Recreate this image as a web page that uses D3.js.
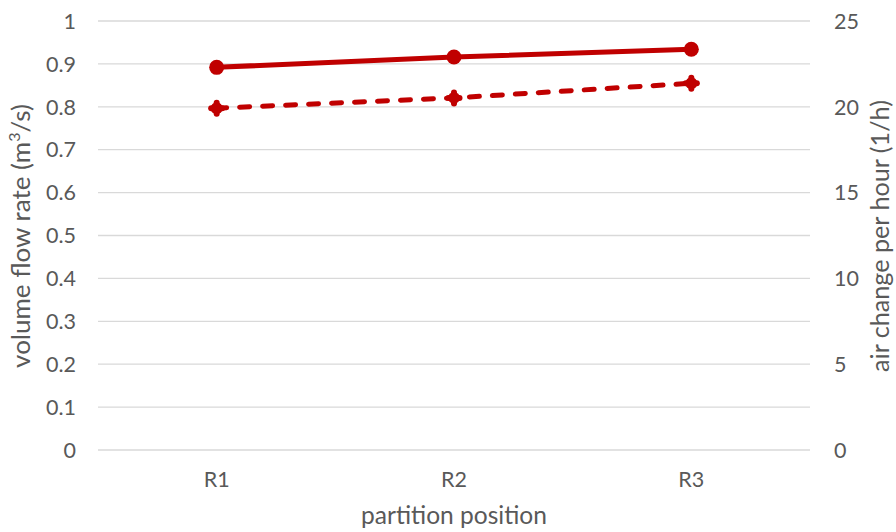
<!DOCTYPE html>
<html><head><meta charset="utf-8">
<script src="https://cdn.jsdelivr.net/npm/d3@7"></script>
<style>body{margin:0;background:#fff}svg text{font-family:Lato,"Open Sans",sans-serif;fill:#595959}</style>
</head><body>
<svg id="c" width="896" height="532"></svg>
<script>
const categories = ["R1","R2","R3"];
const flowRate = [0.892, 0.916, 0.934];      // left axis, solid line
const airChange = [19.92, 20.52, 21.37];     // right axis, dashed line
const leftTicks = [0,0.1,0.2,0.3,0.4,0.5,0.6,0.7,0.8,0.9,1];
const rightTicks = [0,5,10,15,20,25];

const svg = d3.select("#c");
const m = {l:98, r:810, t:21, b:450};
const x = d3.scaleBand().domain(categories).range([m.l, m.r]);
const yL = d3.scaleLinear().domain([0,1]).range([m.b, m.t]);
const yR = d3.scaleLinear().domain([0,25]).range([m.b, m.t]);
const TF = 21.5;

// gridlines
svg.append("g").selectAll("line").data(leftTicks).join("line")
  .attr("x1", m.l).attr("x2", m.r)
  .attr("y1", d=>yL(d)).attr("y2", d=>yL(d))
  .attr("stroke", "#d9d9d9").attr("stroke-width", 1.3);

// left ticks
svg.append("g").selectAll("text").data(leftTicks).join("text")
  .attr("x", 76).attr("y", d=>yL(d)).attr("dy","0.36em")
  .attr("text-anchor","end").attr("font-size", TF)
  .text(d=>d===0||d===1?String(d):d.toFixed(1));

// right ticks
svg.append("g").selectAll("text").data(rightTicks).join("text")
  .attr("x", 834).attr("y", d=>yR(d)).attr("dy","0.36em")
  .attr("text-anchor","start").attr("font-size", TF)
  .text(d=>d);

// x ticks
svg.append("g").selectAll("text").data(categories).join("text")
  .attr("x", d=>x(d)+x.bandwidth()/2).attr("y", 487)
  .attr("text-anchor","middle").attr("font-size", TF)
  .text(d=>d);

function fit(sel, target, base){
  const len = sel.node().getComputedTextLength();
  const k = target/len;
  sel.attr("font-size", base*k);
  sel.selectAll("tspan.sup").attr("font-size", base*k*0.62).attr("dy", -base*k*0.38);
  sel.selectAll("tspan.after").attr("dy", base*k*0.38);
}

// axis titles
const xt = svg.append("text").attr("x", (m.l+m.r)/2).attr("y", 524)
  .attr("text-anchor","middle").attr("font-size", 24).text("partition position");
fit(xt, 186, 24);
const lt = svg.append("text").attr("transform","translate(30,236) rotate(-90)")
  .attr("text-anchor","middle").attr("font-size", 24);
lt.append("tspan").text("volume flow rate (m");
lt.append("tspan").attr("class","sup").attr("font-size", 15).attr("dy", -9).text("3");
lt.append("tspan").attr("class","after").attr("dy", 9).text("/s)");
fit(lt, 264, 24);
const rt = svg.append("text").attr("transform","translate(889,236) rotate(-90)")
  .attr("text-anchor","middle").attr("font-size", 24).text("air change per hour (1/h)");
fit(rt, 272, 24);

const cx = d=>x(d)+x.bandwidth()/2;
const red = "#c00000";

// solid series
svg.append("path").datum(categories.map((c,i)=>[cx(c), yL(flowRate[i])]))
  .attr("d", d3.line()).attr("fill","none").attr("stroke", red).attr("stroke-width", 5);
svg.append("g").selectAll("circle").data(categories).join("circle")
  .attr("cx", cx).attr("cy", (d,i)=>yL(flowRate[i])).attr("r", 7.5).attr("fill", red);

// dashed series
svg.append("path").datum(categories.map((c,i)=>[cx(c), yR(airChange[i])]))
  .attr("d", d3.line()).attr("fill","none").attr("stroke", red).attr("stroke-width", 5)
  .attr("stroke-dasharray","10,13").attr("stroke-linecap","round");
const dm = svg.append("g").selectAll("g").data(categories).join("g")
  .attr("transform",(d,i)=>`translate(${cx(d)},${yR(airChange[i])})`);
dm.append("circle").attr("r", 6).attr("fill", red);
dm.append("rect").attr("x",-8.5).attr("y",-3).attr("width",17).attr("height",6).attr("rx",3).attr("fill",red);
dm.append("rect").attr("x",-3).attr("y",-8.5).attr("width",6).attr("height",17).attr("rx",3).attr("fill",red);
</script>
</body></html>
